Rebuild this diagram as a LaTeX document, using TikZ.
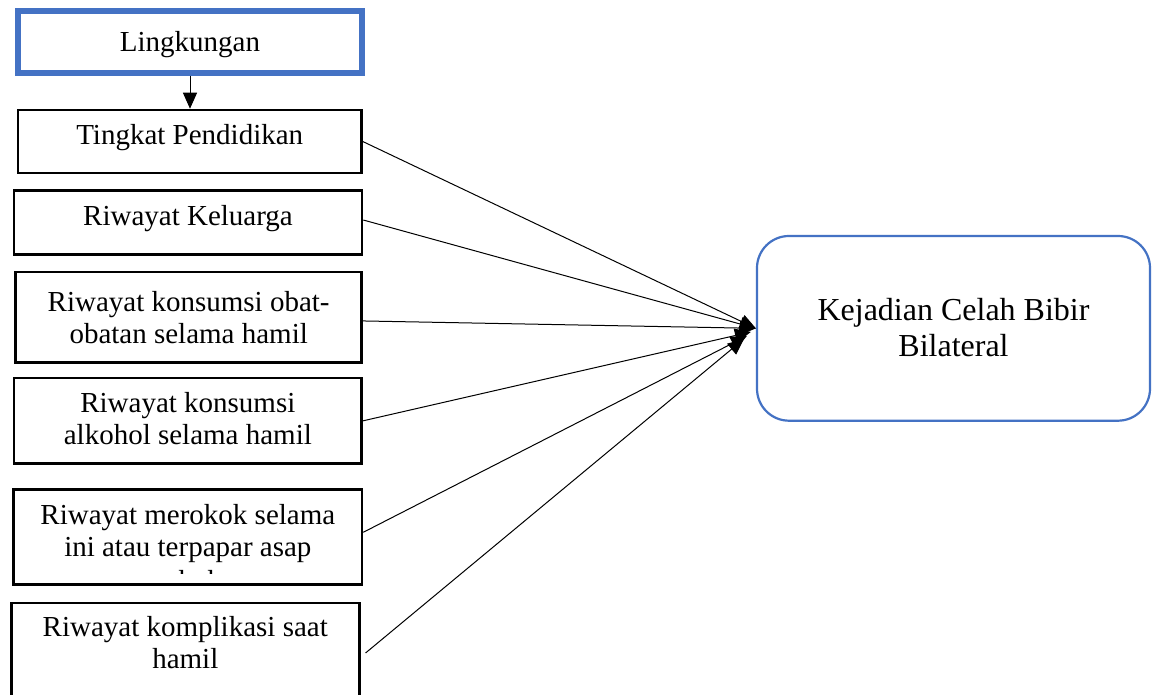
\documentclass[tikz,border=0pt]{standalone}
\usepackage{fontspec}
\setmainfont{Liberation Serif}
\usetikzlibrary{arrows.meta,calc}
\definecolor{wordblue}{HTML}{4472C4}
\newlength\pxu \setlength\pxu{0.5pt}
\newcommand\boxtxt[4]{\parbox[c][#2\pxu][t]{#1\pxu}{\centering\rule{0pt}{#3\pxu}#4\par}}
\tikzset{
  leftbox/.style={draw=black, line width=1.25pt, inner sep=0pt, font=\fontsize{14.5}{16}\selectfont},
  lingbox/.style={draw=wordblue, line width=2.75pt, inner sep=0pt, font=\fontsize{14.5}{16}\selectfont},
  outbox/.style={draw=wordblue, line width=1.1pt, rounded corners=16pt, inner sep=0pt, font=\fontsize{16}{18.35}\selectfont},
  conn/.style={line width=0.5pt, -{Triangle[length=8pt,width=7pt]}},
}
\begin{document}
\begin{tikzpicture}[x=0.5pt,y=-0.5pt]
\useasboundingbox (0,0) rectangle (1152,695);
\fill[white] (0,0) rectangle (1152,695);
\clip (0,0) rectangle (1152,695);

\node[lingbox] (ling) at (190,42) {\boxtxt{344}{62}{41}{Lingkungan}};
\node[leftbox] (tin) at (189.75,141.5) {\boxtxt{343.5}{63}{35}{Tingkat Pendidikan}};
\node[leftbox] (kel) at (188,222.7) {\boxtxt{348}{64}{35.3}{Riwayat Keluarga}};
\node[leftbox] (oba) at (188.7,317.35) {\boxtxt{346}{90.7}{39.7}{Riwayat konsumsi obat-\\obatan selama hamil}};
\node[leftbox] (alk) at (187.85,420.85) {\boxtxt{347.7}{85.7}{35}{Riwayat konsumsi\\alkohol selama hamil}};
\node[leftbox] (mer) at (187.85,537.2) {\boxtxt{348.3}{95}{34.3}{Riwayat merokok selama\\ini atau terpapar asap}};
\begin{scope}
  \clip (20,500) rectangle (356,573.5);
  \node[font=\fontsize{14.5}{16}\selectfont, anchor=base, inner sep=0pt] (rok) at (188,590.7) {rokok};
\end{scope}
\node[leftbox] (kom) at (185.3,653) {\boxtxt{348}{100}{33.7}{Riwayat komplikasi saat\\hamil}};

\node[outbox] (kej) at (953.5,328.35) {\boxtxt{393}{184.7}{84}{Kejadian Celah Bibir\\Bilateral}};

\draw[conn] (ling.south) -- (ling.south |- tin.north);
\draw[conn] (tin.east) -- (kej.west);
\draw[conn] ([yshift=1.35pt]kel.east) -- (kej.west);
\draw[conn] ([yshift=-1.8pt]oba.east) -- (kej.west);
\draw[conn] (alk.east) -- ([xshift=-2.5pt,yshift=-1.8pt]kej.west);
\draw[conn] ([yshift=2.45pt]mer.east) -- ([xshift=-4.5pt,yshift=-3.8pt]kej.west);
\draw[conn] ([xshift=2.5pt]kom.east) -- ([xshift=-6pt,yshift=-5.3pt]kej.west);
\end{tikzpicture}
\end{document}
